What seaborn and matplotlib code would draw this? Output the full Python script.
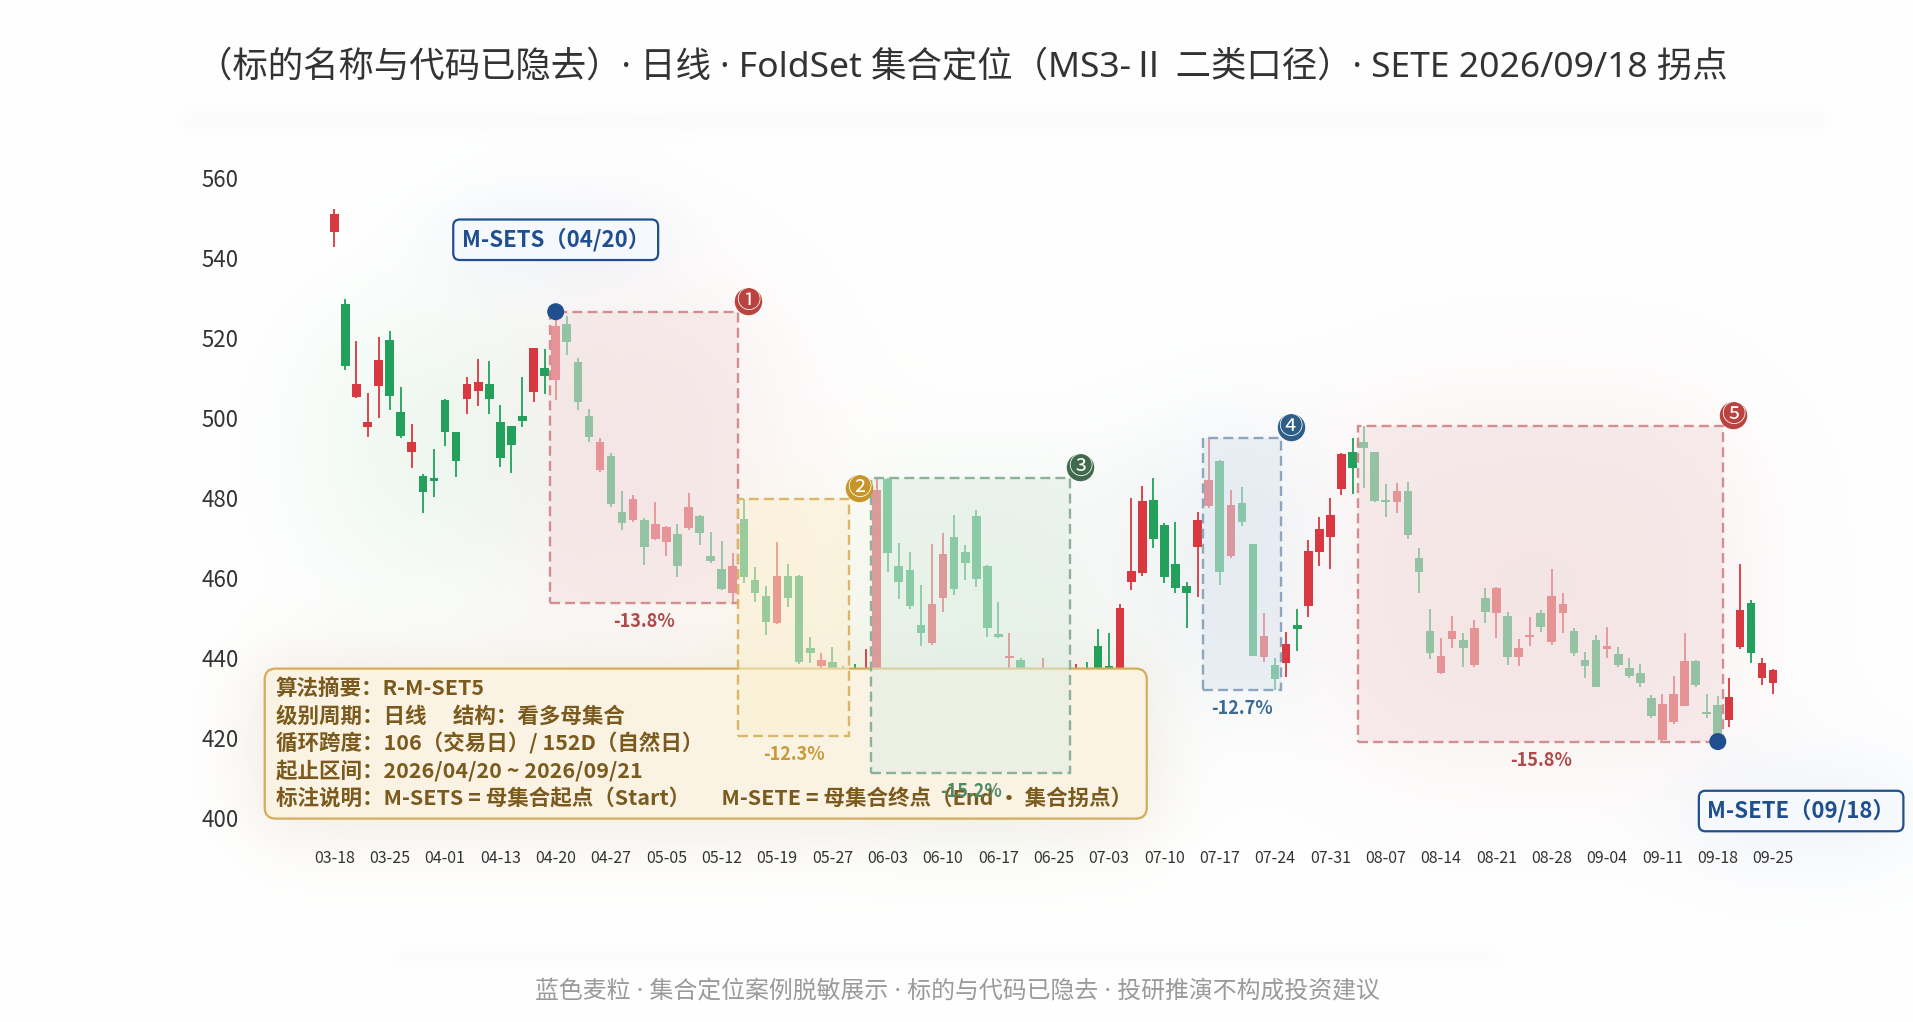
import numpy as np
import pandas as pd
import matplotlib
matplotlib.use("Agg")
import matplotlib.pyplot as plt
import matplotlib.transforms as mtransforms
from matplotlib.patches import Rectangle, FancyBboxPatch
import seaborn as sns

# ---- data ----
opens = [546.5, 528.4, 505.1, 497.8, 508.0, 519.4, 501.5, 491.4, 485.5, 484.9,
         504.5, 496.4, 504.6, 506.6, 508.4, 498.9, 497.9, 500.4, 506.5, 512.4,
         509.4, 523.4, 513.9, 500.5, 487.1, 490.5, 476.4, 474.5, 474.5, 469.8,
         469.1, 471.0, 472.4, 475.6, 465.5, 462.4, 456.2, 474.7, 459.5, 455.5,
         448.9, 460.5, 460.5, 442.5, 438.1, 439.0, 436.0, 434.0, 425.0, 432.0,
         484.7, 463.0, 462.0, 448.3, 443.9, 455.0, 470.2, 466.4, 475.5, 463.0,
         446.0, 440.0, 439.6, 433.0, 418.0, 432.0, 425.0, 429.0, 437.0, 443.0,
         438.0, 436.0, 459.1, 461.4, 479.5, 473.3, 463.6, 458.0, 467.7, 478.0,
         489.2, 465.6, 478.7, 468.5, 440.2, 438.4, 438.9, 448.3, 453.1, 466.4,
         470.2, 482.2, 491.4, 493.9, 491.4, 479.5, 479.1, 481.7, 464.9, 446.8,
         436.3, 444.8, 444.5, 438.2, 455.0, 451.2, 450.5, 440.2, 445.2, 451.2,
         444.1, 451.2, 446.8, 439.6, 444.5, 442.3, 441.1, 437.5, 436.4, 430.2,
         419.5, 424.0, 428.1, 439.3, 426.5, 428.3, 424.7, 442.9, 453.9, 435.0,
         433.9]
highs = [552.1, 529.6, 519.2, 506.1, 520.2, 521.7, 507.7, 498.4, 486.0, 492.2,
         504.6, 496.5, 510.3, 514.6, 514.1, 503.2, 498.0, 510.1, 517.4, 517.1,
         526.5, 525.4, 514.9, 502.1, 495.1, 491.3, 481.7, 480.7, 475.1, 478.9,
         473.0, 473.5, 481.2, 475.8, 471.6, 469.3, 466.2, 479.7, 462.7, 458.0,
         469.1, 463.5, 460.8, 445.4, 441.2, 442.9, 438.0, 438.6, 442.2, 484.9,
         484.9, 468.8, 466.6, 458.3, 468.4, 471.2, 475.7, 468.3, 477.0, 463.2,
         454.1, 446.2, 440.0, 435.0, 440.0, 436.0, 435.0, 438.5, 439.0, 447.3,
         446.2, 453.5, 480.1, 483.0, 485.1, 473.8, 474.1, 459.1, 476.4, 494.9,
         489.5, 482.0, 482.8, 468.6, 451.2, 440.0, 446.6, 452.2, 469.5, 475.3,
         479.9, 491.2, 494.9, 497.9, 491.5, 483.5, 483.8, 484.1, 467.4, 452.2,
         445.1, 450.5, 446.2, 449.5, 457.5, 457.8, 451.6, 444.7, 450.2, 452.0,
         462.4, 456.2, 447.5, 441.6, 445.8, 447.9, 442.9, 440.0, 438.5, 430.8,
         431.2, 435.6, 446.2, 439.5, 431.1, 430.6, 435.1, 463.5, 454.5, 440.0,
         437.2]
lows = [542.6, 512.0, 505.0, 495.3, 500.0, 502.0, 495.0, 487.6, 476.2, 480.2,
        493.0, 485.2, 501.0, 503.0, 501.0, 487.8, 486.3, 497.6, 504.0, 506.0,
        504.5, 515.7, 502.0, 494.1, 486.5, 477.8, 472.0, 474.0, 463.3, 469.5,
        465.5, 460.4, 472.0, 468.3, 463.7, 457.0, 453.8, 458.7, 454.1, 445.8,
        448.5, 452.9, 438.6, 438.9, 437.0, 432.0, 420.7, 424.0, 423.0, 428.0,
        461.6, 454.9, 452.2, 443.1, 443.3, 451.6, 455.8, 459.5, 457.9, 445.4,
        445.0, 437.0, 431.0, 411.3, 416.0, 422.0, 420.0, 426.0, 428.0, 434.0,
        433.0, 434.0, 457.0, 460.6, 467.4, 458.9, 456.2, 447.5, 455.3, 477.4,
        458.3, 465.0, 472.9, 440.6, 439.1, 432.1, 435.4, 441.7, 450.2, 463.0,
        462.2, 480.7, 480.9, 482.4, 479.0, 475.3, 476.3, 469.7, 456.2, 439.9,
        436.0, 442.5, 437.7, 437.9, 448.9, 445.0, 438.3, 438.1, 443.1, 446.6,
        443.3, 446.2, 440.6, 435.0, 432.9, 440.0, 437.9, 435.0, 432.9, 425.0,
        419.4, 423.5, 428.0, 432.7, 425.0, 419.2, 422.9, 442.2, 438.7, 433.3,
        431.2]
closes = [550.9, 513.0, 508.4, 498.9, 514.4, 505.5, 495.5, 493.9, 481.6, 484.2,
          496.5, 489.3, 508.4, 508.9, 504.6, 490.0, 493.2, 499.1, 517.4, 510.5,
          522.9, 519.0, 504.0, 495.3, 494.0, 478.5, 473.8, 479.7, 467.8, 473.5,
          472.8, 463.1, 477.8, 471.3, 464.3, 457.2, 463.0, 460.4, 456.4, 449.1,
          460.5, 455.1, 439.1, 441.4, 439.6, 435.0, 424.0, 428.0, 436.0, 482.0,
          466.3, 459.1, 453.1, 446.4, 453.5, 466.0, 457.2, 463.7, 459.7, 447.5,
          445.4, 440.5, 433.0, 418.0, 432.0, 425.0, 431.0, 436.0, 430.0, 437.0,
          436.0, 452.6, 461.8, 479.2, 469.7, 460.4, 457.6, 456.2, 474.5, 484.5,
          461.6, 478.2, 474.1, 440.6, 445.6, 434.7, 443.6, 447.2, 466.8, 472.3,
          475.7, 491.0, 487.6, 492.4, 479.3, 479.0, 481.7, 470.8, 461.6, 441.2,
          440.6, 446.8, 442.5, 447.5, 451.5, 457.5, 440.2, 442.5, 445.8, 447.9,
          455.5, 453.5, 441.2, 438.1, 432.9, 443.1, 438.3, 435.6, 433.9, 425.7,
          428.7, 431.0, 439.3, 433.3, 426.0, 420.5, 430.4, 452.0, 441.2, 438.7,
          437.0]

tick_labels = ["03-18", "03-25", "04-01", "04-13", "04-20", "04-27", "05-05", "05-12",
               "05-19", "05-27", "06-03", "06-10", "06-17", "06-25", "07-03", "07-10",
               "07-17", "07-24", "07-31", "08-07", "08-14", "08-21", "08-28", "09-04",
               "09-11", "09-18", "09-25"]

seg_start = [20, 37, 49, 79, 93]
seg_end = [36, 46, 66, 85, 125]
seg_badge = ["①", "②", "③", "④", "⑤"]

sets_idx, sete_idx = 20, 125

title = "（标的名称与代码已隐去）· 日线 · FoldSet 集合定位（MS3-Ⅱ 二类口径）· SETE 2026/09/18 拐点"
footer = "蓝色麦粒 · 集合定位案例脱敏展示 · 标的与代码已隐去 · 投研推演不构成投资建议"
summary_lines = [
    "算法摘要：R-M-SET5",
    "级别周期：日线\u3000 结构：看多母集合",
    "循环跨度：106（交易日）/ 152D（自然日）",
    "起止区间：2026/04/20 ~ 2026/09/21",
    "标注说明：M-SETS = 母集合起点（Start）\u3000  M-SETE = 母集合终点（End · 集合拐点）",
]

# ---- styles ----
RED, GREEN, BLUE = "#d8383f", "#23a05b", "#1f4f8f"
seg_fill = ["#f3e0e0", "#fbf0d2", "#e0eee3", "#dfe7ef", "#f3dfdf"]
seg_edge = ["#d48e90", "#dcb668", "#8fb09b", "#8ea6bd", "#d48e90"]
seg_text = ["#b04a48", "#c79a3a", "#4f8a66", "#3d6a94", "#b04a48"]
seg_badge_c = ["#b9443f", "#c8952b", "#3f6b4c", "#2e5d88", "#b9443f"]

sns.set_theme(style="white")
plt.rcParams["font.family"] = ["Noto Sans CJK SC", "DejaVu Sans"]
plt.rcParams["axes.unicode_minus"] = False
latin_first = ["Noto Sans", "Noto Sans CJK SC", "DejaVu Sans"]

df = pd.DataFrame({"open": opens, "high": highs, "low": lows, "close": closes})
df["i"] = np.arange(len(df))
df["up"] = df["close"] >= df["open"]

W, H = 1913, 1022
fig = plt.figure(figsize=(W / 100, H / 100), dpi=100)

# soft glow background
yy, xx = np.mgrid[0:H, 0:W].astype(float)
bg = np.ones((H, W, 3))


def sig(v):
    return 1.0 / (1.0 + np.exp(-np.clip(v, -40, 40)))


def glow(x0, y0, x1, y1, rgb, strength, soft):
    m = sig((xx - x0) / soft) * sig((x1 - xx) / soft) * sig((yy - y0) / soft) * sig((y1 - yy) / soft)
    m = (m * strength)[..., None]
    bg[:] = bg * (1 - m) + np.array(rgb)[None, None, :] * m


glow(180, 116, 1830, 124, (0.90, 0.90, 0.90), 0.35, 6)
glow(390, 955, 1500, 962, (0.92, 0.92, 0.92), 0.35, 5)
glow(330, 330, 560, 560, (0.86, 0.94, 0.88), 0.6, 45)
glow(540, 300, 760, 610, (0.94, 0.85, 0.85), 0.5, 45)
glow(255, 660, 1155, 830, (0.88, 0.84, 0.76), 0.5, 22)
glow(735, 495, 855, 745, (0.98, 0.94, 0.82), 0.5, 30)
glow(870, 480, 1075, 780, (0.86, 0.93, 0.87), 0.5, 40)
glow(1100, 460, 1220, 640, (0.88, 0.90, 0.89), 0.45, 40)
glow(1200, 435, 1285, 695, (0.85, 0.89, 0.93), 0.55, 35)
glow(1350, 420, 1730, 750, (0.94, 0.86, 0.86), 0.5, 45)
glow(450, 218, 662, 262, (0.86, 0.89, 0.94), 0.6, 22)
glow(1695, 790, 1908, 834, (0.84, 0.88, 0.93), 0.7, 28)

bgax = fig.add_axes([0, 0, 1, 1], zorder=-10)
bgax.imshow(bg, extent=(0, W, H, 0), aspect="auto")
bgax.axis("off")

ax = fig.add_axes([0.12849, 0.17952, 0.85625, 0.67032])
ax.set_facecolor("none")

# candles
cols = np.where(df["up"], RED, GREEN)
ax.vlines(df["i"], df["low"], df["high"], colors=cols, linewidth=1.3, zorder=2)
body_lo = np.minimum(df["open"], df["close"])
body_h = np.maximum((df["close"] - df["open"]).abs(), 0.5)
ax.bar(df["i"], body_h, bottom=body_lo, width=0.78, color=cols, linewidth=0, zorder=2)

ax.set_xlim(-8, 140)
ax.set_ylim(395, 566)
ax.set_yticks(np.arange(400, 561, 20))
ax.set_xticks(np.arange(0, len(df), 5))
ax.set_xticklabels(tick_labels)
ax.tick_params(axis="y", length=0, pad=5, labelsize=16, labelcolor="#333333")
ax.tick_params(axis="x", length=0, pad=8, labelsize=11.5, labelcolor="#333333")
for sp in ax.spines.values():
    sp.set_visible(False)
ax.grid(False)

# summary panel
panel = FancyBboxPatch((2.647, 2.034), 8.821, 1.50, boxstyle="round,pad=0,rounding_size=0.11",
                       transform=fig.dpi_scale_trans, fc="#faf3e3", ec="#d4ad5a", lw=1.6,
                       alpha=1.0, zorder=3)
ax.add_patch(panel)
for k, line in enumerate(summary_lines):
    ax.text(275.7 / W, 1 - (688.5 + 27.3 * k) / H, line, transform=fig.transFigure,
            ha="left", va="center", fontsize=15.5, fontweight="bold", color="#7b5a1e", zorder=5)

# segment boxes
for k, (s, e) in enumerate(zip(seg_start, seg_end)):
    seg = df.iloc[s:e + 1]
    top, bot = seg["high"].max(), seg["low"].min()
    ax.add_patch(Rectangle((s - 0.5, bot), e - s + 1, top - bot, fc=seg_fill[k], ec="none",
                           alpha=0.55, zorder=4))
    ax.add_patch(Rectangle((s - 0.5, bot), e - s + 1, top - bot, fill=False, ec=seg_edge[k],
                           lw=1.7, ls=(0, (4.2, 2.2)), zorder=4.5))
    pct = (bot / top - 1) * 100
    ax.annotate(f"{pct:.1f}%", xy=((s + e) / 2, bot), xytext=(0, -13.5), textcoords="offset points",
                ha="center", va="center", fontsize=13, fontweight="bold", color=seg_text[k], zorder=6)
    tr = mtransforms.offset_copy(ax.transData, fig=fig, x=7.2, y=7.9, units="points")
    ax.scatter([e + 0.5], [top], s=390, color=seg_badge_c[k], transform=tr, zorder=6, linewidths=0)
    ax.text(e + 0.5, top, seg_badge[k], transform=tr, ha="center", va="center", fontsize=17.5,
            color="white", zorder=6.5)

# start / end markers
pts = pd.DataFrame({"x": [sets_idx, sete_idx],
                    "y": [df["high"][sets_idx], df["low"][sete_idx]]})
sns.scatterplot(data=pts, x="x", y="y", ax=ax, s=150, color=BLUE, edgecolor="none", zorder=7, legend=False)
ax.set_xlabel("")
ax.set_ylabel("")
lab_box = dict(boxstyle="round,pad=0.38,rounding_size=0.3", fc="#f5f8fc", ec=BLUE, lw=1.6)
ax.annotate("M-SETS（04/20）", xy=(sets_idx, df["high"][sets_idx]), xytext=(0, 51.8),
            textcoords="offset points", ha="center", va="center", fontsize=16, fontweight="bold",
            color=BLUE, bbox=lab_box, zorder=7, annotation_clip=False)
ax.annotate("M-SETE（09/18）", xy=(sete_idx, df["low"][sete_idx]), xytext=(60, -50),
            textcoords="offset points", ha="center", va="center", fontsize=16, fontweight="bold",
            color=BLUE, bbox=lab_box, zorder=7, annotation_clip=False)

fig.text(0.503, 1 - 68.4 / H, title, ha="center", va="center", fontsize=25.5, color="#333333",
         family=latin_first)
fig.text(0.5003, 1 - 992.5 / H, footer, ha="center", va="center", fontsize=17.2, color="#9a9a9a",
         family=latin_first)

fig.savefig("out.png", dpi=100)
